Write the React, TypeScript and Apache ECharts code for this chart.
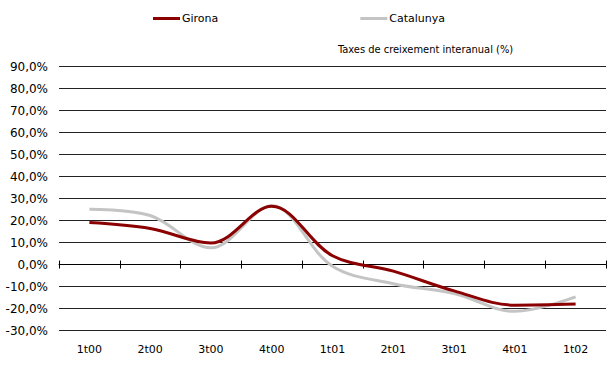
import React, { useEffect, useRef } from "react";
import * as echarts from "echarts";

const categories = ["1t00", "2t00", "3t00", "4t00", "1t01", "2t01", "3t01", "4t01", "1t02"];
const girona = [19.1, 16.4, 9.8, 26.5, 4.0, -3.0, -12.0, -18.5, -18.0];
const catalunya = [25.2, 22.3, 7.6, 26.7, -0.8, -8.7, -13.2, -21.3, -14.7];
const seriesNames = ["Girona", "Catalunya"];
const subtitle = "Taxes de creixement interanual (%)";
const yMin = -30;
const yMax = 90;
const yStep = 10;

const FONT = "'DejaVu Sans', sans-serif";

export default function App() {
  const ref = useRef<HTMLDivElement>(null);
  useEffect(() => {
    if (!ref.current) return;
    const chart = echarts.init(ref.current, null, { renderer: "svg" });
    const baseX = {
      type: "category" as const,
      data: categories,
      boundaryGap: true,
      position: "bottom" as const,
      splitLine: { show: false },
    };
    chart.setOption({
      animation: false,
      backgroundColor: "#fff",
      grid: { left: 59, right: 1, top: 66.7, bottom: 36.5, containLabel: false },
      legend: {
        left: 148,
        top: 8,
        itemWidth: 27,
        itemHeight: 3,
        itemGap: 142,
        icon: "rect",
        data: seriesNames,
        textStyle: { fontFamily: FONT, fontSize: 11, color: "#000", padding: [0, 0, 0, -3] },
      },
      graphic: [
        {
          type: "text",
          left: 338,
          top: 44,
          style: {
            text: subtitle,
            fontFamily: "'Liberation Sans Narrow', 'DejaVu Sans Condensed', sans-serif",
            fontSize: 11,
            fill: "#000",
          },
        },
      ],
      xAxis: [
        {
          ...baseX,
          axisLine: { show: true, onZero: true, onZeroAxisIndex: 0, lineStyle: { color: "#000", width: 1 } },
          axisTick: { show: true, inside: false, length: 4, lineStyle: { color: "#000" } },
          axisLabel: { show: false },
        },
        {
          ...baseX,
          axisLine: { show: false, onZero: true, onZeroAxisIndex: 0 },
          axisTick: { show: true, inside: true, length: 4, lineStyle: { color: "#000" } },
          axisLabel: { show: false },
        },
        {
          ...baseX,
          axisLine: { show: false, onZero: false },
          axisTick: { show: false },
          axisLabel: {
            show: true,
            margin: 13,
            fontFamily: FONT,
            fontSize: 11,
            color: "#000",
          },
        },
      ],
      yAxis: {
        type: "value",
        min: yMin,
        max: yMax,
        interval: yStep,
        axisLine: { show: false },
        axisTick: { show: false },
        splitLine: { show: true, lineStyle: { color: "#222", width: 1 } },
        axisLabel: {
          margin: 11,
          fontFamily: FONT,
          fontSize: 12,
          color: "#000",
          formatter: (v: number) => v.toFixed(1).replace(".", ",") + "%",
        },
      },
      series: [
        {
          name: seriesNames[0],
          type: "line",
          data: girona,
          smooth: 0.35,
          symbol: "none",
          lineStyle: { color: "#8B0000", width: 3 },
          itemStyle: { color: "#8B0000" },
          z: 3,
        },
        {
          name: seriesNames[1],
          type: "line",
          data: catalunya,
          smooth: 0.35,
          symbol: "none",
          lineStyle: { color: "#C4C4C4", width: 3 },
          itemStyle: { color: "#C4C4C4" },
          z: 2,
        },
      ],
    });
    return () => chart.dispose();
  }, []);
  return (
    <div
      ref={ref}
      style={{ position: "fixed", left: 0, top: 0, width: 607, height: 367, background: "#fff" }}
    />
  );
}
